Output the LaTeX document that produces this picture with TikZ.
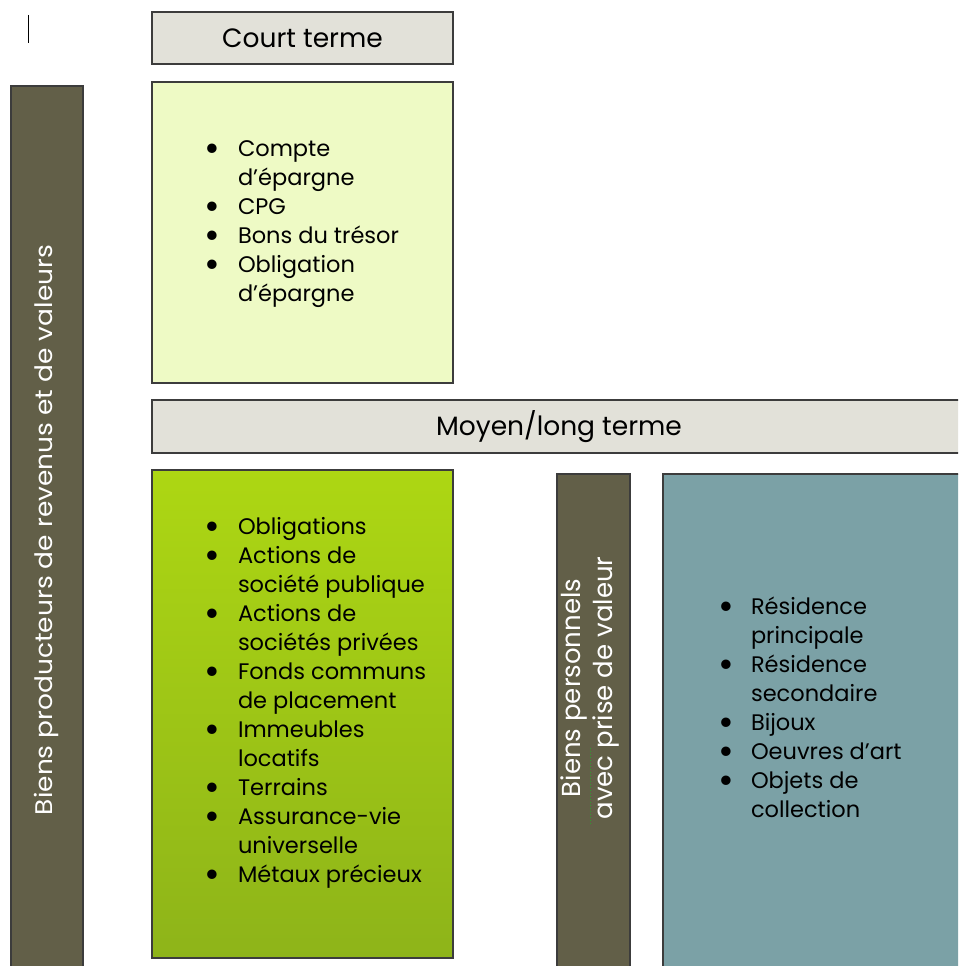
\documentclass[tikz,border=0pt]{standalone}
\usepackage{fontspec}
\setmainfont{Poppins}
\usepackage{graphicx}
\definecolor{bordc}{HTML}{3C3C3C}
\definecolor{headc}{HTML}{E2E1D9}
\definecolor{lightg}{HTML}{EEFAC5}
\definecolor{olive}{HTML}{625F48}
\definecolor{gtop}{HTML}{ADD713}
\definecolor{gbot}{HTML}{8EB419}
\definecolor{bluec}{HTML}{7BA1A6}
\definecolor{spellg}{HTML}{2E9E2E}
\newcommand\bulx{\smash{\raisebox{-0.25em}{\scalebox{1.7}{\textbullet}}}}
\begin{document}
\begin{tikzpicture}[x=1pt,y=-1pt,
  boxst/.style={draw=bordc, line width=1.2pt, anchor=north west, inner sep=0pt, outer sep=0pt},
  headtext/.style={font=\fontsize{26.5}{30}\selectfont, text=black},
  listst/.style={anchor=base west, inner sep=0pt, outer sep=0pt, font=\fontsize{22.5}{29}\selectfont, text=black},
  vtext/.style={text=white, rotate=90, inner sep=0pt, align=center}]
\useasboundingbox (0,0) rectangle (958,966);
\clip (0,0) rectangle (958,966);
% cursor mark
\coordinate (cur1) at (28,15);
\coordinate (cur2) at (28,43);
\draw[line width=1pt, black] (cur1) -- (cur2);
% boxes
\node[boxst, fill=headc, minimum width=301, minimum height=52] (court) at (152,12) {};
\node[headtext] (courtt) at (court.center) {Court terme};
\node[boxst, fill=lightg, minimum width=301, minimum height=301] (courtbox) at (152,82) {};
\node[boxst, fill=olive, minimum width=72, minimum height=900] (leftbar) at (11,86) {};
\node[boxst, fill=headc, minimum width=814, minimum height=53] (moyen) at (152,400) {};
\node[headtext] (moyent) at (559,426.5) {Moyen/long terme};
\node[boxst, top color=gtop, bottom color=gbot, minimum width=301, minimum height=488] (greenbox) at (152,470) {};
\node[boxst, fill=olive, minimum width=73, minimum height=520] (perbar) at (557,474) {};
\node[boxst, fill=bluec, minimum width=320, minimum height=520] (bluebox) at (663,474) {};
% vertical labels
\node[vtext] (lefttext) at (46,530) {\resizebox{570pt}{\height}{\fontsize{24}{28}\selectfont Biens producteurs de revenus et de valeurs}};
\node[vtext, font=\fontsize{26}{32}\selectfont] (pertext) at (590,688) {Biens personnels\\avec prise de valeur};
\coordinate (sp1) at (590,748);
\coordinate (sp2) at (590,825);
\draw[spellg, line width=1pt, dotted] (sp1) -- (sp2);
% lists
\node[listst] (courtlist) at (204,156) {\begin{tabular}[t]{@{}p{34pt}@{}l@{}}
\bulx & Compte\\
 & d’épargne\\
\bulx & CPG\\
\bulx & Bons du trésor\\
\bulx & Obligation\\
 & d’épargne
\end{tabular}};
\node[listst] (greenlist) at (204,534) {\begin{tabular}[t]{@{}p{34pt}@{}l@{}}
\bulx & Obligations\\
\bulx & Actions de\\
 & société publique\\
\bulx & Actions de\\
 & sociétés privées\\
\bulx & Fonds communs\\
 & de placement\\
\bulx & Immeubles\\
 & locatifs\\
\bulx & Terrains\\
\bulx & Assurance-vie\\
 & universelle\\
\bulx & Métaux précieux
\end{tabular}};
\node[listst] (bluelist) at (718,614) {\begin{tabular}[t]{@{}p{33pt}@{}l@{}}
\bulx & Résidence\\
 & principale\\
\bulx & Résidence\\
 & secondaire\\
\bulx & Bijoux\\
\bulx & Oeuvres d’art\\
\bulx & Objets de\\
 & collection
\end{tabular}};
\end{tikzpicture}
\end{document}
